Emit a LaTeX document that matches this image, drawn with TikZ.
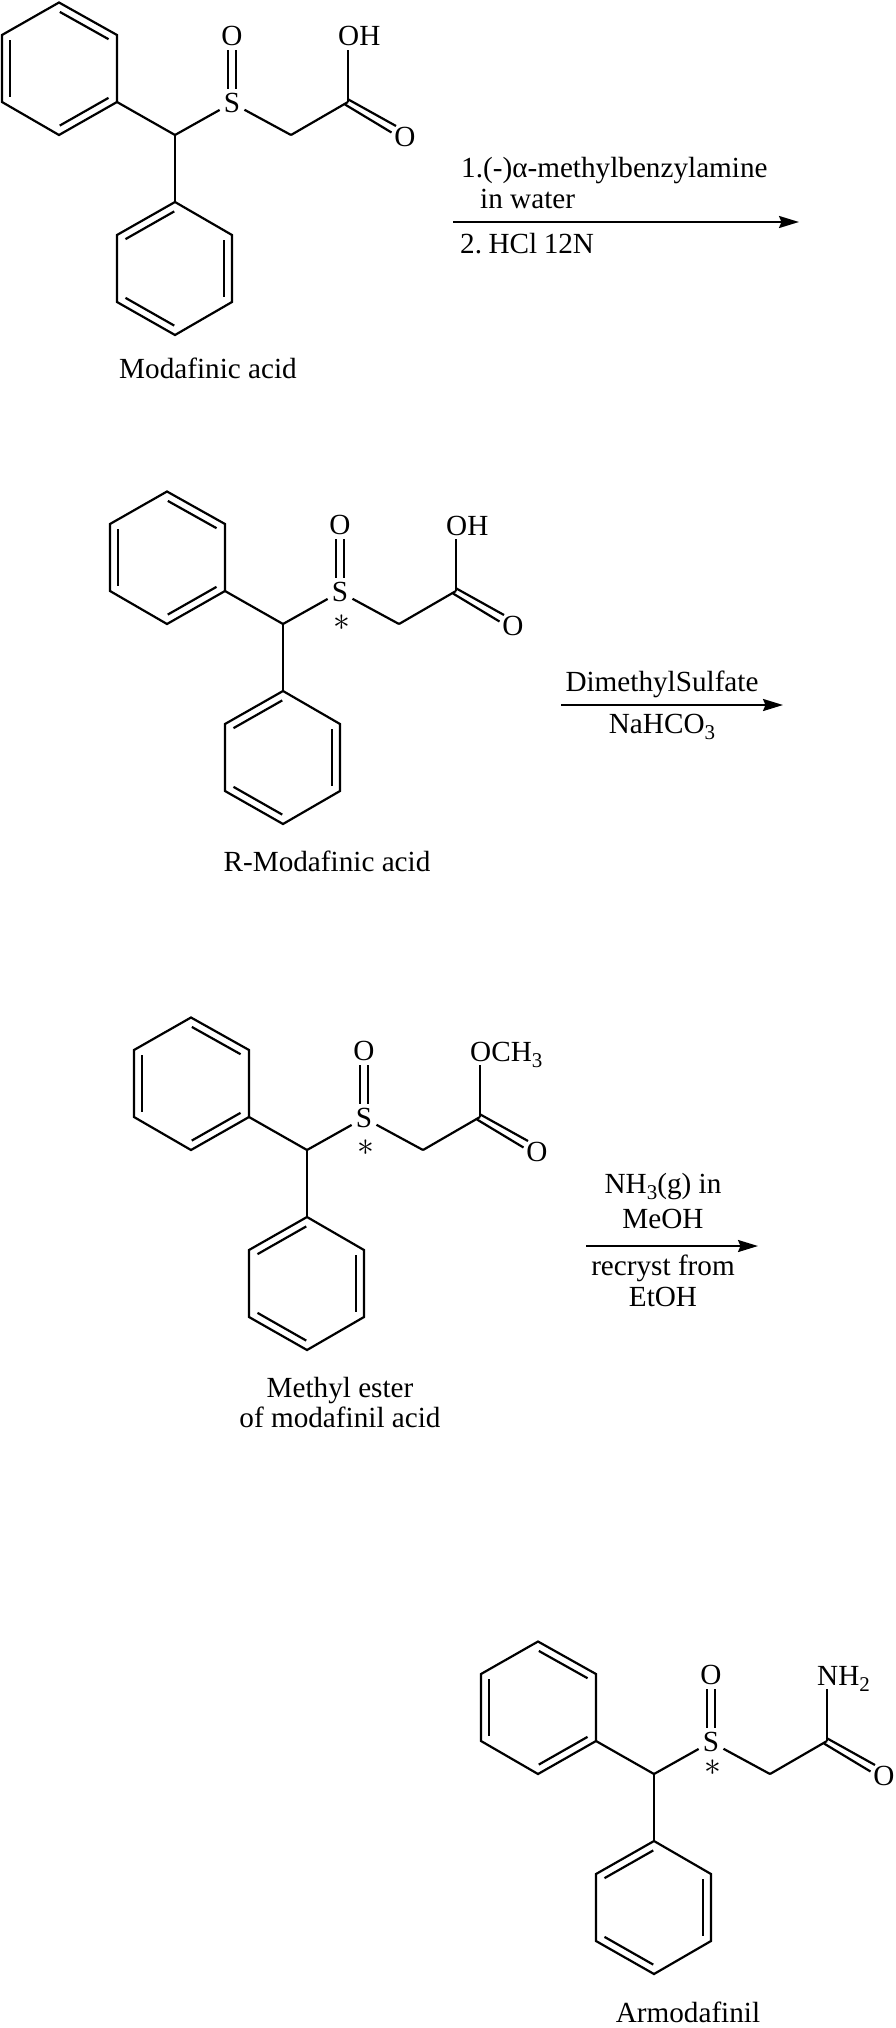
\documentclass[tikz,border=0pt]{standalone}
\usepackage{fontspec}
\setmainfont{Liberation Serif}
\usetikzlibrary{calc,arrows.meta}
\tikzset{
  bond/.style={line width=2.2pt,line join=miter},
  atomlabel/.style={circle,inner sep=0pt,minimum size=28pt,text height=19pt,text depth=0pt,align=center},
  taillabel/.style={anchor=base west,inner sep=0pt,text height=19pt,text depth=4pt},
  caption/.style={anchor=base,inner sep=0pt},
  reagent/.style={anchor=base,inner sep=0pt},
  reagentleft/.style={anchor=base west,inner sep=0pt},
  reaction/.style={line width=2.2pt,-{Stealth[length=20pt,width=12pt,inset=2.5pt]}},
  chiral/.style={inner sep=0pt}
}
\newcommand\lowered[1]{\raisebox{-6pt}{\fontsize{21}{21}\selectfont #1}}
\newcommand\innerbond[2]{\draw[bond] ($(#1)!.08!(#2)!7.8pt!-90:(#2)$) -- ($(#2)!.08!(#1)!7.8pt!90:(#1)$);}
\newcommand\molecule[5]{%
\begin{scope}[shift={(#2,#3)},name prefix=#1-]
  \coordinate (a1) at (59,2.5);
  \coordinate (a2) at (117,35);
  \coordinate (a3) at (117,102);
  \coordinate (a4) at (59,135);
  \coordinate (a5) at (2,102);
  \coordinate (a6) at (2,35);
  \coordinate (b1) at (175,202);
  \coordinate (b2) at (232,235);
  \coordinate (b3) at (232,302);
  \coordinate (b4) at (175,335);
  \coordinate (b5) at (117,302);
  \coordinate (b6) at (117,235);
  \coordinate (ch) at (175,135);
  \coordinate (ch2) at (291,135);
  \coordinate (co) at (348,102);
  \coordinate (coU) at (347.5,99);
  \coordinate (coL) at (345,104.5);
  \coordinate (endU) at (396,126);
  \coordinate (endL) at (391.5,132.5);
  \node[atomlabel] (S) at (232,103) {S};
  \node[atomlabel] (O) at (232,36) {O};
  \node[atomlabel] (Ot) at (405,137) {O};
  \node[taillabel] (tail) at (338,46) {#4};
  #5
  \draw[bond] (a1)--(a2)--(a3)--(a4)--(a5)--(a6)--cycle;
  \draw[bond] (b1)--(b2)--(b3)--(b4)--(b5)--(b6)--cycle;
  \innerbond{a1}{a2}\innerbond{a3}{a4}\innerbond{a5}{a6}
  \innerbond{b6}{b1}\innerbond{b2}{b3}\innerbond{b4}{b5}
  \draw[bond] (a3)--(ch);
  \draw[bond] (ch)--(b1);
  \draw[bond] (ch)--(S);
  \draw[bond] (S)--(ch2);
  \draw[bond] (ch2)--(co);
  \draw[bond] (co)--(co |- tail.south);
  \draw[bond] ([xshift=-4pt]O.south)--([xshift=-4pt]S.north);
  \draw[bond] ([xshift=4pt]O.south)--([xshift=4pt]S.north);
  \draw[bond] (coU)--(endU);
  \draw[bond] (coL)--(endL);
\end{scope}}
\newcommand\starnode[1]{\node[chiral] (star) at (234,#1) {\scalebox{1.35}{$\ast$}};}
\begin{document}
\begin{tikzpicture}[x=1pt,y=-1pt,font=\fontsize{29.2}{33}\selectfont]
\useasboundingbox (0,0) rectangle (896,2028);
\fill[white] (0,0) rectangle (896,2028);

\molecule{m1}{0}{0}{OH}{}
\molecule{m2}{108}{489}{OH}{\starnode{134}}
\molecule{m3}{132}{1015}{OCH\lowered{3}}{\starnode{133}}
\molecule{m4}{479}{1639}{NH\lowered{2}}{\starnode{129}}

\node[caption] (cap1) at (208,378) {Modafinic acid};
\node[caption] (cap2) at (327,871) {R-Modafinic acid};
\node[caption] (cap3a) at (340,1397) {Methyl ester};
\node[caption] (cap3b) at (340,1427) {of modafinil acid};
\node[caption] (cap4) at (688,2022) {Armodafinil};

\coordinate (r1a) at (453,222);
\coordinate (r1b) at (799,222);
\draw[reaction] (r1a)--(r1b);
\node[reagentleft] (t1a) at (461,178) {1.(-)α-methylbenzylamine};
\node[reagentleft] (t1b) at (480,208) {in water};
\node[reagentleft] (t1c) at (460,253) {2.\hspace{6.5pt}HCl\hspace{6.5pt}12N};

\coordinate (r2a) at (561,705);
\coordinate (r2b) at (783,705);
\draw[reaction] (r2a)--(r2b);
\node[reagent] (t2a) at (662,691) {DimethylSulfate};
\node[reagent] (t2b) at (662,733) {NaHCO\lowered{3}};

\coordinate (r3a) at (586,1246);
\coordinate (r3b) at (758,1246);
\draw[reaction] (r3a)--(r3b);
\node[reagent] (t3a) at (663,1193) {NH\lowered{3}(g) in};
\node[reagent] (t3b) at (663,1228) {MeOH};
\node[reagent] (t3c) at (663,1275) {recryst from};
\node[reagent] (t3d) at (663,1306) {EtOH};
\end{tikzpicture}
\end{document}
